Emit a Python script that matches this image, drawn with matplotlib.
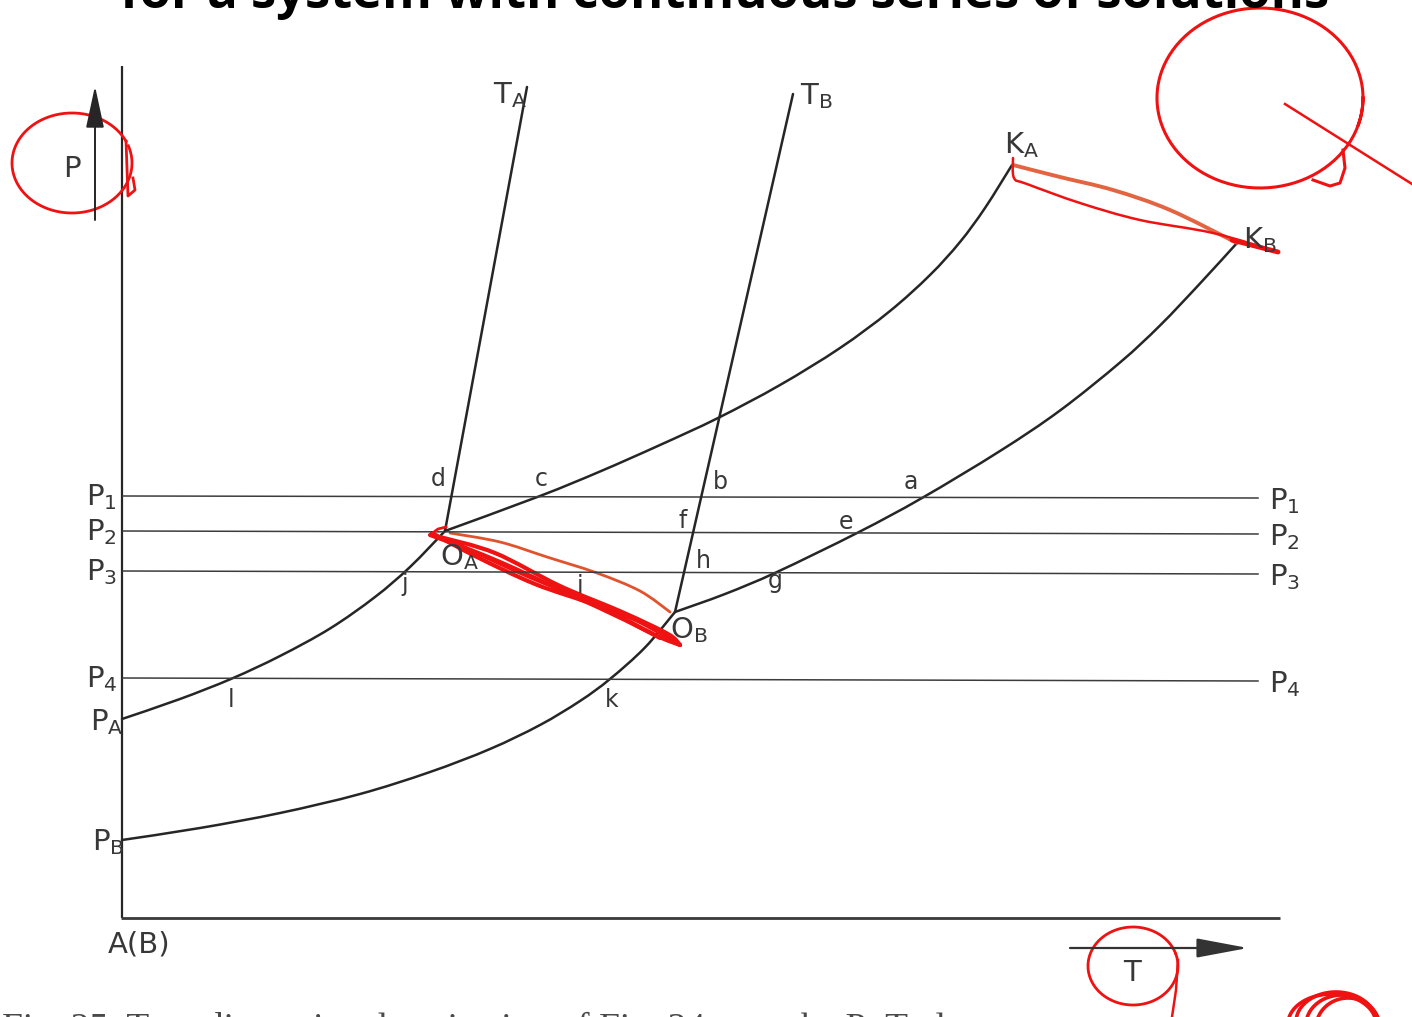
import numpy as np
import matplotlib
matplotlib.use("Agg")
import matplotlib.pyplot as plt
from matplotlib.path import Path
from matplotlib.patches import PathPatch

# ---- Schematic P-T projection of a binary system A-B (continuous solid solutions)
# Coordinates are in drawing units (T to the right, P upward; y grows downward).

# pressure levels: left end / right end heights
level_names = ["1", "2", "3", "4"]
level_y_left = [496, 531, 571, 678]
level_y_right = [498, 534, 574, 681]
level_x = [123, 1258]

# component A: sublimation curve P_A -> O_A, vaporization curve O_A -> K_A
subl_A_T = [122, 180, 232, 280, 330, 375, 410, 445]
subl_A_P = [719, 699, 678.5, 656, 628.5, 597, 567, 531]
vap_A_T = [445, 540, 600, 660, 718, 780, 840, 890, 930, 960, 985, 1012]
vap_A_P = [531, 496, 471.5, 445, 418, 385, 348, 311, 275, 242, 208, 165]

# component B: sublimation curve P_B -> O_B, vaporization curve O_B -> K_B
subl_B_T = [122, 200, 280, 360, 430, 490, 540, 580, 610, 645, 675]
subl_B_P = [840, 828, 813, 794, 772, 749, 725, 701, 679, 647.5, 612]
vap_B_T = [675, 725, 777, 858, 922, 1000, 1060, 1120, 1160, 1200, 1237]
vap_B_P = [612, 594, 572, 532.5, 498, 451, 410.5, 362.5, 325.5, 283.5, 243]

# melting curves T_A and T_B (from the triple points upward)
melt_A_T = [445, 527]
melt_A_P = [531, 87]
melt_B_T = [675, 793]
melt_B_P = [612, 94]

# point labels: text, x, baseline y
point_labels = [
    ("d", 438, 486), ("c", 541, 486), ("b", 720, 489), ("a", 911, 489),
    ("f", 683, 528), ("e", 846, 529), ("h", 703, 568), ("g", 775, 588),
    ("i", 580, 593), ("j", 405, 591), ("l", 231, 707), ("k", 612, 707),
]
sub_labels = [
    ("T", "A", 493, 103), ("T", "B", 800, 104),
    ("K", "A", 1004, 153), ("K", "B", 1243, 248),
    ("O", "A", 440, 565), ("O", "B", 670, 638),
    ("P", "A", 90, 730), ("P", "B", 92, 850),
]

# hand-drawn red markings
marks_KA_KB_T = [1013, 1060, 1113, 1170, 1237]
marks_KA_KB_P = [165, 177, 190, 210, 243]
marks_OA_OB_T = [450, 500, 547, 597, 640, 670]
marks_OA_OB_P = [533, 542, 557, 573, 591, 612]

INK = "#262626"
TXT = "#383838"
RED = "#ee1212"
ORANGE = "#e0532c"

fig = plt.figure(figsize=(14.12, 10.17), dpi=100)
ax = fig.add_axes([0, 0, 1, 1])
ax.set_xlim(0, 1412)
ax.set_ylim(1017, 0)
ax.axis("off")
fig.patch.set_facecolor("white")


def smooth(xs, ys, **kw):
    """Draw a smooth curve through the given points (Catmull-Rom as cubic Beziers)."""
    p = np.column_stack([xs, ys]).astype(float)
    if len(p) < 3:
        ax.plot(xs, ys, **kw)
        return
    ext = np.vstack([p[0], p, p[-1]])
    verts = [p[0]]
    codes = [Path.MOVETO]
    for i in range(1, len(ext) - 2):
        p0, p1, p2, p3 = ext[i - 1], ext[i], ext[i + 1], ext[i + 2]
        verts += [p1 + (p2 - p0) / 6.0, p2 - (p3 - p1) / 6.0, p2]
        codes += [Path.CURVE4] * 3
    kw.setdefault("capstyle", "round")
    kw.setdefault("joinstyle", "round")
    color = kw.pop("color")
    lw = kw.pop("lw")
    ax.add_patch(PathPatch(Path(verts, codes), facecolor="none", edgecolor=color,
                           linewidth=lw, **kw))


# axes frame
ax.plot([122, 122], [66, 918], color=INK, lw=1.6, solid_capstyle="butt")
ax.plot([121, 1280], [918, 918], color="#3a3a3a", lw=2.0, solid_capstyle="butt")

# direction arrows
ax.annotate("", xy=(95, 86), xytext=(95, 220),
            arrowprops=dict(arrowstyle="-|>,head_length=1.3,head_width=0.28",
                            mutation_scale=20, lw=1.4, color=INK, shrinkA=0, shrinkB=0))
ax.annotate("", xy=(1248, 948), xytext=(1070, 948),
            arrowprops=dict(arrowstyle="-|>,head_length=1.6,head_width=0.3",
                            mutation_scale=20, lw=1.6, color="#333333", shrinkA=0, shrinkB=0))

# isobars
for yl, yr in zip(level_y_left, level_y_right):
    ax.plot(level_x, [yl, yr], color="#3c3c3c", lw=1.1)

# equilibrium curves
for xs, ys in [(subl_A_T, subl_A_P), (vap_A_T, vap_A_P),
               (subl_B_T, subl_B_P), (vap_B_T, vap_B_P)]:
    smooth(xs, ys, color=INK, lw=1.8)
for xs, ys in [(melt_A_T, melt_A_P), (melt_B_T, melt_B_P)]:
    ax.plot(xs, ys, color=INK, lw=1.8, solid_capstyle="round")

FS = 21

# isobar labels
for name, yl, yr in zip(level_names, level_y_left, level_y_right):
    ax.text(86, yl + 9, "P" + r"$_{%s}$" % name, fontsize=FS, color=TXT, ha="left", va="baseline")
    ax.text(1269, yr + 11, "P" + r"$_{%s}$" % name, fontsize=FS, color=TXT, ha="left", va="baseline")

for s, x, y in point_labels:
    ax.text(x, y, s, fontsize=17, color=TXT, ha="center", va="baseline")

for s, sub, x, y in sub_labels:
    ax.text(x, y, s + r"$_\mathrm{%s}$" % sub, fontsize=FS, color=TXT, ha="left", va="baseline")

ax.text(63, 177, "P", fontsize=FS, color=TXT, ha="left", va="baseline")
ax.text(108, 953, "A(B)", fontsize=FS, color=TXT, ha="left", va="baseline")
ax.text(1132, 981, "T", fontsize=FS, color=TXT, ha="center", va="baseline")

# heading and caption, both running past the page edges
ax.text(725, 8, "for a system with continuous series of solutions", fontsize=36.5,
        fontweight="bold", family="Open Sans", color="black", ha="center", va="baseline")
ax.text(2, 1039, "Fig. 25. Two-dimensional projection of Fig. 24 onto the P\u2013T plane",
        fontsize=27, family="Liberation Serif", color="#4a4a4a", ha="left", va="baseline")

# ---- red pen markings
def ellipse(cx, cy, rx, ry, t0=0.0, t1=2 * np.pi, n=200):
    t = np.linspace(t0, t1, n)
    return cx + rx * np.cos(t), cy + ry * np.sin(t)

ex, ey = ellipse(72, 163, 60, 50, -0.35, 2 * np.pi - 0.45)
ax.plot(ex, ey, color=RED, lw=2.0)
ax.plot([ex[-1], 128, 135, 133], [ey[-1], 196, 190, 178], color=RED, lw=2.0)

ex, ey = ellipse(1260, 98, 103, 90, 0.0, 2 * np.pi + 0.3)
ax.plot(ex, ey, color=RED, lw=2.2)
ax.plot([1313, 1330, 1340, 1345, 1343], [180, 186, 183, 168, 150], color=RED, lw=2.2)
ax.plot([1285, 1412], [104, 184], color=RED, lw=1.8)

ex, ey = ellipse(1133, 966, 45, 39, -0.3, 2 * np.pi - 0.35)
ax.plot(ex, ey, color=RED, lw=2.0)
ax.plot([1178, 1176, 1172], [960, 990, 1017], color=RED, lw=1.8)

for dx, dy, rx in [(0, 0, 40), (6, 3, 36), (12, 6, 32), (-4, 2, 44)]:
    ex, ey = ellipse(1336 + dx, 1022 + dy, rx, 30, np.pi, 2 * np.pi)
    ax.plot(ex, ey, color=RED, lw=2.6)

smooth(marks_KA_KB_T, marks_KA_KB_P, color=ORANGE, lw=2.8, alpha=0.9)
smooth([1013, 1014, 1027, 1080, 1140, 1213, 1278], [158, 178, 184, 203, 220, 233, 252],
       color=RED, lw=1.8)
ax.plot([1232, 1278], [240, 252], color=RED, lw=3.5, solid_capstyle="round")

smooth(marks_OA_OB_T, marks_OA_OB_P, color=ORANGE, lw=2.0)
for pts in [
    [(430, 535), (470, 550), (530, 577), (590, 601), (640, 622), (680, 645)],
    [(440, 537), (495, 553), (560, 586), (622, 612), (668, 634), (680, 645)],
    [(432, 533), (475, 556), (535, 584), (600, 607), (655, 635), (680, 645)],
    [(445, 540), (500, 562), (565, 592), (625, 620), (660, 638)],
]:
    px, py = zip(*pts)
    smooth(px, py, color=RED, lw=3.0)
ax.plot([430, 438, 446], [535, 529, 527], color=RED, lw=2.0)

fig.savefig("out.png", dpi=100, facecolor="white")
